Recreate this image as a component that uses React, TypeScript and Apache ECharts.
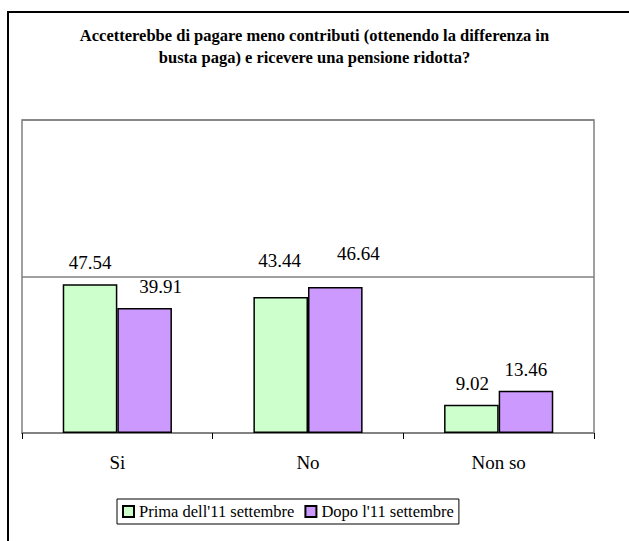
import React, { useEffect, useRef } from "react";
import * as echarts from "echarts";

const TITLE = "Accetterebbe di pagare meno contributi (ottenendo la differenza in\nbusta paga) e ricevere una pensione ridotta?";
const CATEGORIES = ["Si", "No", "Non so"];
const SERIES_NAMES = ["Prima dell'11 settembre", "Dopo l'11 settembre"];
const PRIMA = [47.54, 43.44, 9.02];
const DOPO = [39.91, 46.64, 13.46];
const Y_MIN = 0;
const Y_MAX = 100;
const Y_INTERVAL = 50;

// label nudges (style only) per series, per category: [dx, dy]
const LABEL_NUDGE_PRIMA = [[0, 0], [-1, -15], [1, 0]];
const LABEL_NUDGE_DOPO = [[16, 0], [23, -12], [0, 0]];

const FONT = "Liberation Serif";

export default function App() {
  const ref = useRef<HTMLDivElement>(null);
  useEffect(() => {
    if (!ref.current) return;
    const chart = echarts.init(ref.current, undefined, { renderer: "svg" });
    const mk = (vals: number[], nudges: number[][]) =>
      vals.map((v, i) => ({ value: v, label: { offset: nudges[i] } }));
    const labelCfg = {
      show: true,
      position: "top",
      distance: 12,
      fontFamily: FONT,
      fontSize: 19,
      color: "#000",
      formatter: (p: any) => Number(p.value).toFixed(2),
    };
    chart.setOption({
      animation: false,
      backgroundColor: "#fff",
      textStyle: { fontFamily: FONT },
      title: {
        text: TITLE,
        left: "center",
        top: 19,
        padding: [5, 0, 5, 11],
        textStyle: {
          fontFamily: FONT,
          fontSize: 16.5,
          fontWeight: "bold",
          color: "#000",
          lineHeight: 22,
        },
      },
      graphic: [
        {
          type: "rect",
          shape: { x: 8, y: 12, width: 800, height: 800 },
          style: { fill: "none", stroke: "#000", lineWidth: 2 },
          silent: true,
          z: 100,
        },
      ],
      legend: {
        left: 117,
        top: 499,
        itemWidth: 11,
        itemHeight: 11,
        itemGap: 10,
        padding: [4, 5, 4, 5],
        borderColor: "#000",
        borderWidth: 1,
        icon: "rect",
        textStyle: { fontFamily: FONT, fontSize: 16.5, color: "#000" },
        data: SERIES_NAMES,
      },
      grid: {
        left: 22,
        right: 35,
        top: 120,
        bottom: 108,
        show: true,
        borderColor: "#808080",
        borderWidth: 1.5,
        backgroundColor: "transparent",
      },
      xAxis: {
        type: "category",
        data: CATEGORIES,
        axisLine: { lineStyle: { color: "#808080", width: 1.5 } },
        axisTick: { show: true, length: 6, lineStyle: { color: "#000", width: 1 } },
        axisLabel: { fontFamily: FONT, fontSize: 19, color: "#000", margin: 20 },
      },
      yAxis: {
        type: "value",
        min: Y_MIN,
        max: Y_MAX,
        interval: Y_INTERVAL,
        axisLine: { show: false },
        axisTick: { show: false },
        axisLabel: { show: false },
        splitLine: { show: true, lineStyle: { color: "#808080", width: 1.5 } },
      },
      series: [
        {
          name: SERIES_NAMES[0],
          type: "bar",
          data: mk(PRIMA, LABEL_NUDGE_PRIMA),
          barWidth: 54.6,
          barGap: "0%",
          itemStyle: { color: "#CCFFCC", borderColor: "#000", borderWidth: 1.5 },
          label: labelCfg,
        },
        {
          name: SERIES_NAMES[1],
          type: "bar",
          data: mk(DOPO, LABEL_NUDGE_DOPO),
          barWidth: 54.6,
          barGap: "0%",
          itemStyle: { color: "#CC99FF", borderColor: "#000", borderWidth: 1.5 },
          label: labelCfg,
        },
      ],
    });
    return () => chart.dispose();
  }, []);
  return (
    <div
      ref={ref}
      style={{ position: "fixed", left: 0, top: 0, width: 629, height: 541 }}
    />
  );
}
